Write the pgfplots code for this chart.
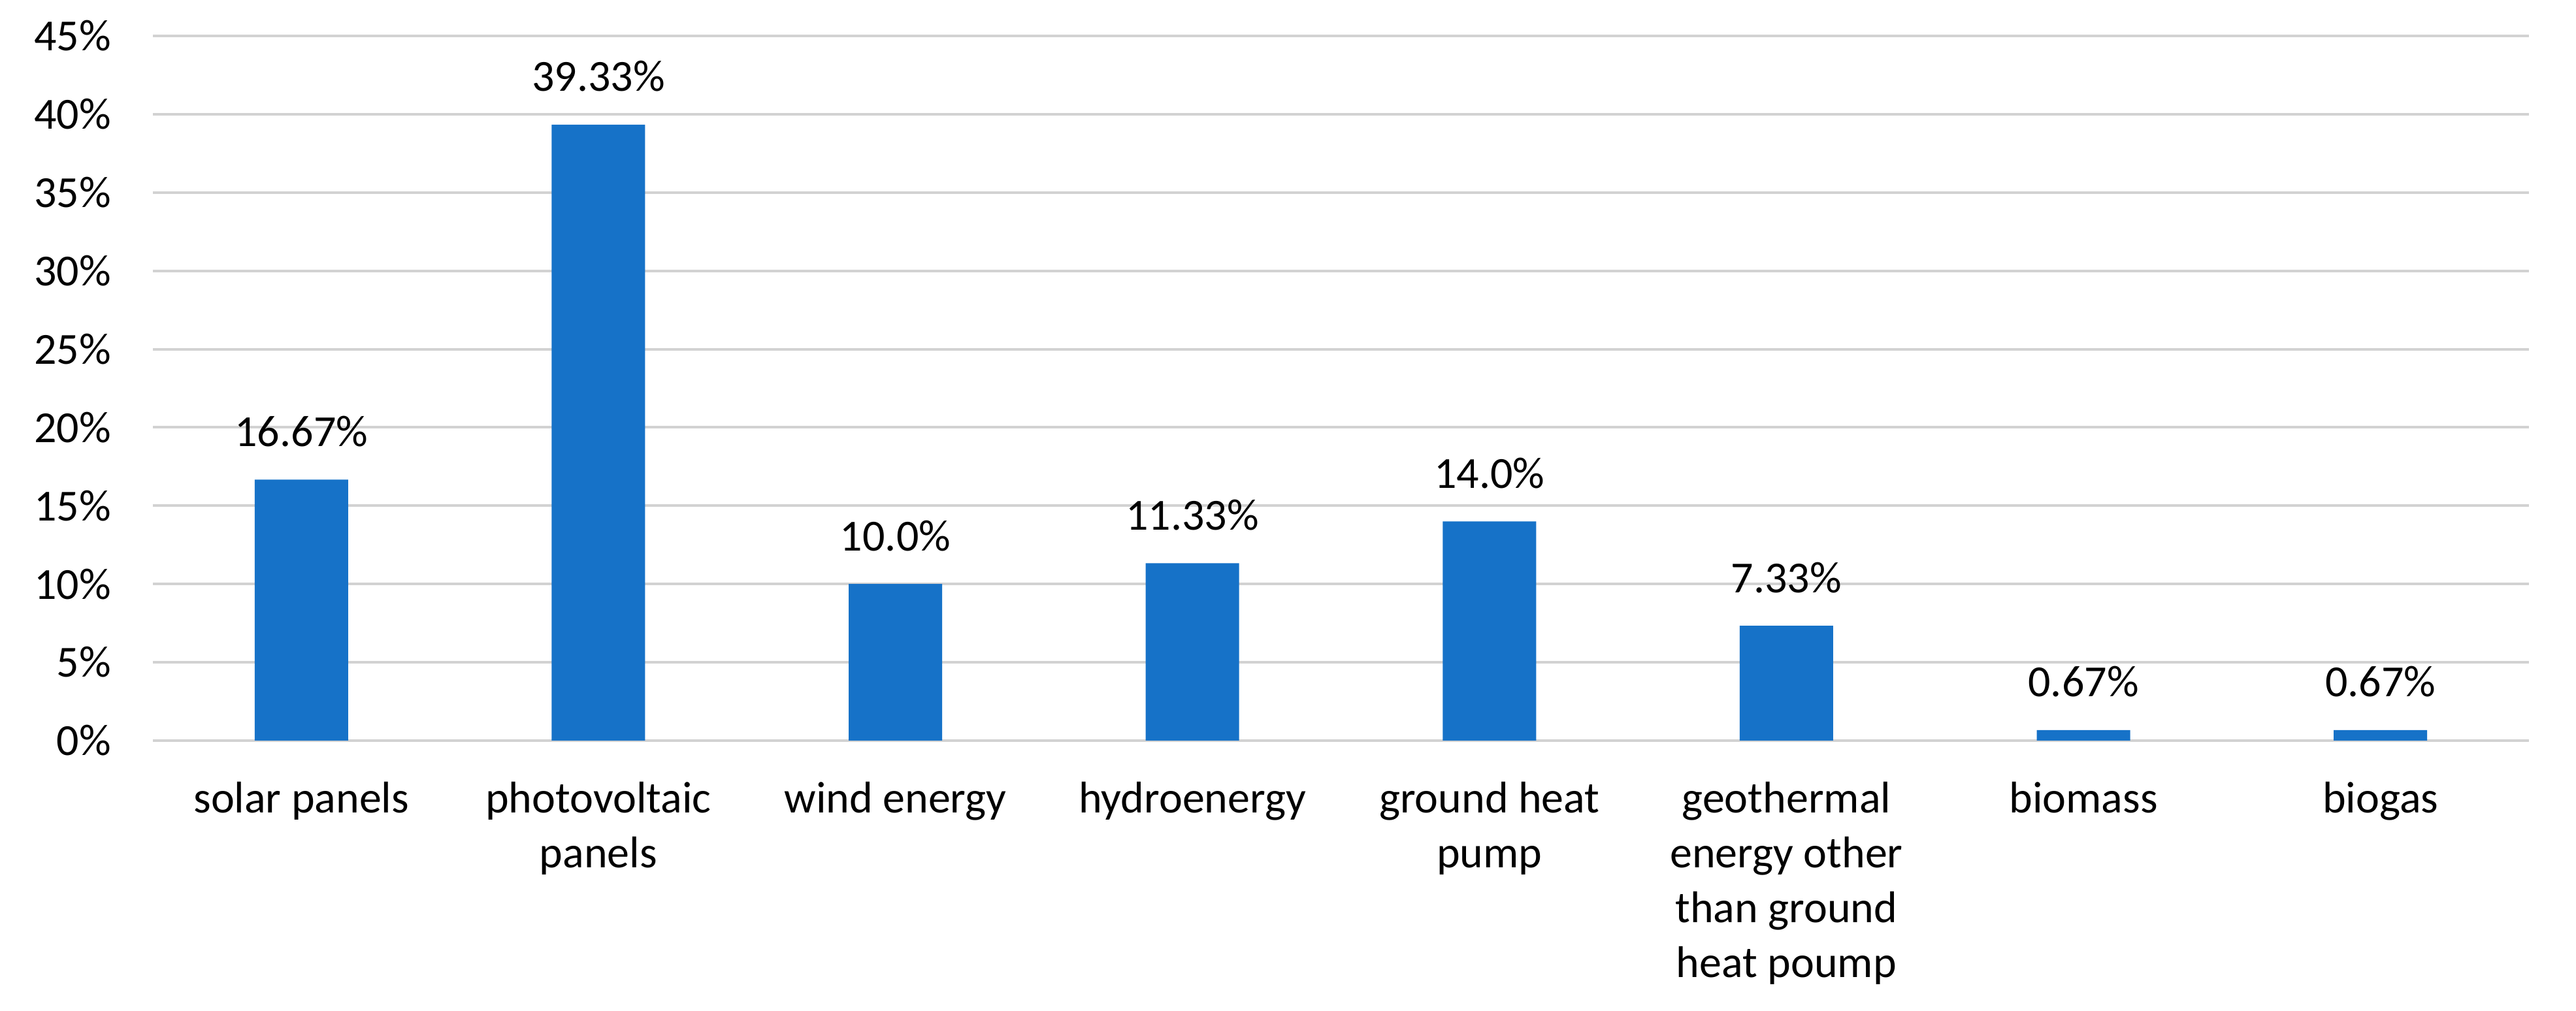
\documentclass[border=0pt]{standalone}
\usepackage{fontspec}
\setmainfont{Carlito}
\usepackage{pgfplots}
\pgfplotsset{compat=1.18}
\usepackage{pgfplotstable}
\definecolor{barblue}{RGB}{22,114,200}
\definecolor{gridgray}{RGB}{210,210,210}
\pgfplotstableread{
x y lab
0 16.67 16.67\%
1 39.33 39.33\%
2 10.0 10.0\%
3 11.33 11.33\%
4 14.0 14.0\%
5 7.33 7.33\%
6 0.67 0.67\%
7 0.67 0.67\%
}\datatable
\begin{document}
\begin{tikzpicture}
\begin{axis}[
  at={(0pt,0pt)}, anchor=south west,
  scale only axis,
  width=363.7pt, height=107.9pt,
  xmin=-0.5, xmax=7.5, ymin=0, ymax=45,
  enlargelimits=false,
  ybar, bar width=14.3pt,
  axis line style={draw=none},
  major tick length=0pt,
  tick style={draw=none},
  ymajorgrids, grid style={draw=gridgray, line width=0.4pt},
  ytick={0,5,10,15,20,25,30,35,40,45},
  yticklabels={0\%,5\%,10\%,15\%,20\%,25\%,30\%,35\%,40\%,45\%},
  yticklabel style={font=\fontsize{6.8}{8.4}\selectfont, anchor=east, inner sep=0pt, xshift=-6.2pt},
  xtick={0,1,2,3,4,5,6,7},
  xticklabels={solar panels, photovoltaic\\panels, wind energy, hydroenergy, ground heat\\pump, geothermal\\energy other\\than ground\\heat poump, biomass, biogas},
  xticklabel style={font=\fontsize{6.8}{8.4}\selectfont, align=center, anchor=north, inner sep=0pt, yshift=-6.1pt},
  nodes near coords,
  point meta=explicit symbolic,
  every node near coord/.append style={font=\fontsize{6.8}{8.4}\selectfont, anchor=base, inner sep=0pt, yshift=5.1pt, color=black},
]
\addplot[fill=barblue, draw=none] table[x=x, y=y, meta=lab] {\datatable};
\end{axis}
\pgfresetboundingbox
\path[use as bounding box] (-23.4pt,-41.4pt) rectangle (370.9pt,113.4pt);
\end{tikzpicture}
\end{document}
